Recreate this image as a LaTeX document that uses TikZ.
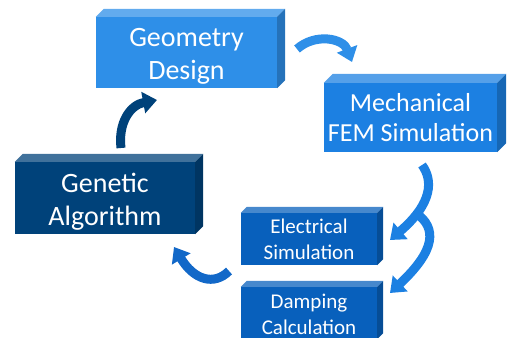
\documentclass[tikz,border=0pt]{standalone}
\usepackage{fontspec}
\setmainfont{Carlito}
\usetikzlibrary{arrows.meta,calc}

\newcommand{\boxtext}[2]{\begin{tabular}[t]{@{}c@{}}#1\\#2\end{tabular}}

\begin{document}
\begin{tikzpicture}[
  x=1pt, y=1pt,
  font=\fontsize{28}{33}\selectfont,
  >={Triangle[width=21pt,length=14pt]},
  box/.style={inner sep=0pt, text=white},
  bigbox/.style={box, minimum width=181pt, minimum height=71pt, text height=20pt, text depth=31pt},
  smallbox/.style={box, minimum width=136pt, minimum height=52pt, text height=16pt, text depth=26pt, font=\fontsize{21}{26}\selectfont},
  flow/.style={->, line width=9pt}
]

\definecolor{cgeo}{RGB}{46,143,232}
\definecolor{cmech}{RGB}{28,128,226}
\definecolor{cgen}{RGB}{0,66,122}
\definecolor{celec}{RGB}{8,96,188}
\definecolor{cback}{RGB}{18,104,200}

\useasboundingbox (0,0) rectangle (507,338);
\clip (0,0) rectangle (507,338);

\node[bigbox, fill=cgeo] (geo) at (186.5,285.5) {\boxtext{Geometry}{Design}};
\node[bigbox, fill=cmech, minimum width=173pt, minimum height=69pt, font=\fontsize{26}{30}\selectfont] (mech) at (410.5,220.5) {\boxtext{Mechanical}{FEM Simulation}};
\node[bigbox, fill=cgen, minimum width=180pt, minimum height=72pt] (gen) at (105,140) {\boxtext{Genetic}{Algorithm}};
\node[smallbox, fill=celec] (elec) at (309,99) {\boxtext{Electrical}{Simulation}};
\node[smallbox, fill=celec] (damp) at (309,25) {\boxtext{Damping}{Calculation}};

\foreach \n/\c/\d in {geo/cgeo/8, mech/cmech/9, gen/cgen/8, elec/celec/6, damp/celec/6} {
  \fill[\c!75!white] (\n.north west) -- ++(\d,\d) -- ($(\n.north east)+(\d,\d)$) -- (\n.north east) -- cycle;
  \fill[\c!80!black] (\n.north east) -- ++(\d,\d) -- ($(\n.south east)+(\d,\d)$) -- (\n.south east) -- cycle;
}

\coordinate (geoout) at (297,289);
\coordinate (mechin) at (352,276);
\coordinate (mechout) at (422,173);
\coordinate (split) at (416,125);
\coordinate (elecin) at (390,98);
\coordinate (dampin) at (390,45);
\coordinate (backout) at (229,67);
\coordinate (genin) at (174,91);
\coordinate (genout) at (121,190);
\coordinate (geoin) at (157,238);

\draw[flow, cgeo] (geoout) .. controls (315,305) and (343,300) .. (mechin);
\draw[flow, cmech] (mechout) .. controls (433,158) and (433,135) .. (elecin);
\draw[flow, cmech] (split) .. controls (437,110) and (436,88) .. (dampin);
\draw[flow, cback] (backout) .. controls (214,52) and (194,58) .. (genin);
\draw[flow, cgen] (genout) .. controls (118,215) and (130,233) .. (geoin);

\end{tikzpicture}
\end{document}
